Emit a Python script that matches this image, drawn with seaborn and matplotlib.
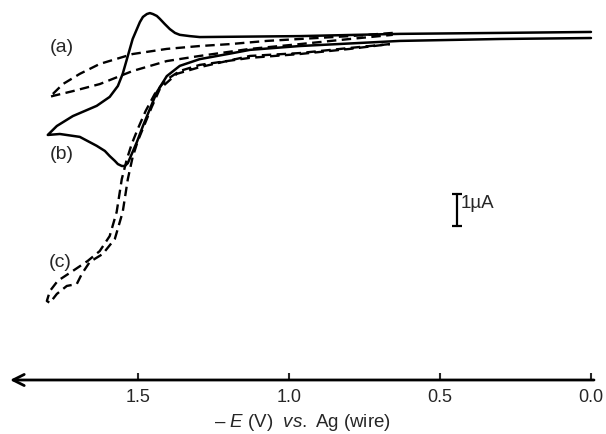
import matplotlib
matplotlib.use('Agg')
import matplotlib.pyplot as plt
import seaborn as sns

# potencial -E (V) e corrente (uA)

# (b) curva cheia: varredura de ida (para a esquerda) e volta
b_E = [0.000, 0.301, 0.632, 0.964, 1.129, 1.185, 1.295, 1.361, 1.404, 1.437,
       1.460, 1.483, 1.503, 1.513, 1.523, 1.533, 1.543, 1.553, 1.566, 1.576,
       1.593, 1.609, 1.636, 1.692, 1.758, 1.798,
       1.768, 1.715, 1.636, 1.593, 1.566, 1.550, 1.533, 1.517, 1.503, 1.493,
       1.483, 1.470, 1.460, 1.450, 1.437, 1.427, 1.411, 1.394, 1.377, 1.361,
       1.328, 1.295, 0.964, 0.632, 0.301, 0.000]
b_i = [0.03, 0.00, -0.06, -0.22, -0.34, -0.44, -0.63, -0.84, -1.16, -1.66,
       -2.19, -2.72, -3.22, -3.44, -3.66, -3.88, -3.97, -3.97, -3.91, -3.81,
       -3.66, -3.50, -3.34, -3.06, -2.97, -3.00,
       -2.72, -2.41, -2.09, -1.81, -1.47, -1.09, -0.53, 0.00, 0.31, 0.53,
       0.69, 0.78, 0.81, 0.78, 0.72, 0.63, 0.47, 0.31, 0.19, 0.13,
       0.09, 0.06, 0.09, 0.16, 0.19, 0.22]

# (a) tracejada, laço pequeno
a_E = [0.656, 0.798, 0.964, 1.073, 1.195, 1.295, 1.404, 1.517, 1.626, 1.692,
       1.748, 1.791,
       1.781, 1.715, 1.626, 1.517, 1.404, 1.295, 1.129, 0.964, 0.798, 0.656]
a_i = [0.19, 0.09, 0.00, -0.06, -0.16, -0.22, -0.31, -0.47, -0.78, -1.09,
       -1.41, -1.81,
       -1.78, -1.63, -1.41, -1.00, -0.69, -0.53, -0.31, -0.16, 0.00, 0.13]

# (c) tracejada, onda grande (duas linhas quase juntas)
c_E = [0.666, 0.798, 0.964, 1.129, 1.295, 1.371, 1.427, 1.454, 1.477, 1.500,
       1.517, 1.533, 1.550, 1.576, 1.616, 1.659, 1.685, 1.702, 1.735, 1.768,
       1.791,
       1.801, 1.791, 1.765, 1.715, 1.666, 1.626, 1.593, 1.570, 1.553, 1.536,
       1.520, 1.500, 1.474, 1.444, 1.411, 1.361, 1.295, 1.129, 0.964, 0.798,
       0.666]
c_i = [-0.16, -0.28, -0.44, -0.53, -0.88, -1.09, -1.56, -2.13, -2.66, -3.19,
       -3.69, -4.38, -5.41, -6.25, -6.72, -6.97, -7.34, -7.66, -7.72, -7.97,
       -8.25,
       -8.19, -7.88, -7.56, -7.25, -6.94, -6.63, -6.16, -5.41, -4.38, -3.75,
       -3.28, -2.81, -2.25, -1.72, -1.31, -1.00, -0.81, -0.59, -0.47, -0.31,
       -0.16]

ticks = [1.5, 1.0, 0.5, 0.0]
tick_labels = ['1.5', '1.0', '0.5', '0.0']

sns.set_style('white')
plt.rcParams['font.family'] = ['Liberation Sans', 'DejaVu Sans']
plt.rcParams['mathtext.fontset'] = 'custom'
plt.rcParams['mathtext.rm'] = 'Liberation Sans'
plt.rcParams['mathtext.it'] = 'Liberation Sans:italic'

fig = plt.figure(figsize=(6.06, 4.35), dpi=100)
ax = fig.add_axes([10 / 606, 54 / 435, 584 / 606, 381 / 435])

tracejado = (0, (4, 2.3))
sns.lineplot(x=b_E, y=b_i, sort=False, estimator=None, color='black', lw=1.8, ax=ax)
sns.lineplot(x=a_E, y=a_i, sort=False, estimator=None, color='black', lw=1.7,
             linestyle=tracejado, ax=ax)
sns.lineplot(x=c_E, y=c_i, sort=False, estimator=None, color='black', lw=1.7,
             linestyle=tracejado, ax=ax)

ax.set_xlim(1.923, -0.01)
ax.set_ylim(-10.66, 1.25)

# rótulos das curvas
ax.text(1.752, -0.25, '(a)', fontsize=14, ha='center', va='center')
ax.text(1.752, -3.59, '(b)', fontsize=14, ha='center', va='center')
ax.text(1.758, -6.97, '(c)', fontsize=14, ha='center', va='center')

# barra de escala de 1 uA
ax.plot([0.444, 0.444], [-4.84, -5.84], color='black', lw=1.6,
        marker='_', ms=7, mew=1.6)
ax.text(0.432, -5.25, '1\u00b5A', fontsize=13.5, ha='left', va='baseline')

# eixo x com seta para a esquerda
for s in ax.spines.values():
    s.set_visible(False)
ax.annotate('', xy=(0, 0), xytext=(1, 0), xycoords='axes fraction',
            arrowprops=dict(arrowstyle='->,head_length=0.5,head_width=0.25',
                            lw=2.0, color='black', mutation_scale=16,
                            shrinkA=0, shrinkB=0))
ax.set_xticks(ticks)
ax.set_xticklabels(tick_labels)
ax.set_yticks([])
ax.tick_params(axis='x', direction='in', length=5, width=1.5, pad=6,
               labelsize=13, bottom=True)
ax.set_xlabel('\u2013 $E$ (V)  $vs.$ Ag (wire)', fontsize=13.5, labelpad=4)
ax.set_ylabel('')

fig.savefig('out.png', dpi=100)
